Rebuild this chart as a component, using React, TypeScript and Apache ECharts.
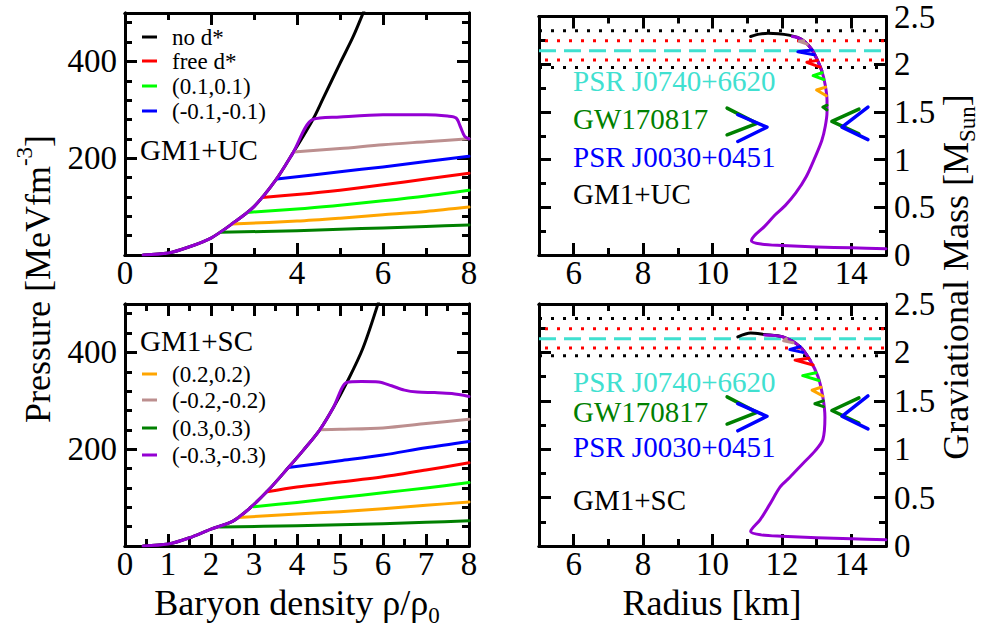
import React, { useEffect, useRef } from "react";
import * as echarts from "echarts";

const FONT = "Liberation Serif";
const COL = {
  black: "#000000",
  red: "#ff0000",
  lime: "#00ff00",
  blue: "#0000ff",
  orange: "#ffa500",
  brown: "#bc8f8f",
  green: "#008000",
  purple: "#9400d3",
  cyan: "#40e0d0",
};

// ---------- tick values ----------
const eosTopXMajor = [0, 2, 4, 6, 8];
const eosTopXMinor = [0, 1, 2, 3, 4, 5, 6, 7, 8];
const eosBotXMajor = [0, 1, 2, 3, 4, 5, 6, 7, 8];
const eosBotXMinor = [0, 0.5, 1, 1.5, 2, 2.5, 3, 3.5, 4, 4.5, 5, 5.5, 6, 6.5, 7, 7.5, 8];
const eosYMajor = [0, 200, 400];
const eosYMinor = [0, 40, 80, 120, 160, 200, 240, 280, 320, 360, 400, 440, 480];
const eosYLabels = [200, 400];
const mrXMajor = [6, 8, 10, 12, 14];
const mrXMinor = [5, 6, 7, 8, 9, 10, 11, 12, 13, 14, 15];
const mrYMajor = [0, 0.5, 1, 1.5, 2, 2.5];
const mrYMinor = [0, 0.25, 0.5, 0.75, 1, 1.25, 1.5, 1.75, 2, 2.25, 2.5];

// ---------- GM1+UC : pressure vs density ----------
const ucBase = [[0.42, 0], [1.0, 4], [1.5, 17], [2.0, 35], [2.5, 65], [3.0, 100], [3.5, 154], [3.9, 210], [4.37, 280]];
const ucNoD = [[4.37, 280], [4.6, 322], [5.0, 396], [5.3, 450], [5.56, 505]];
const ucFree = [[3.19, 119], [4, 125], [5, 134], [6, 145], [7, 157], [8, 169]];
const ucP01 = [[2.84, 88], [4, 95], [5, 103], [6, 112], [7, 122], [8, 134]];
const ucM01 = [[3.53, 157], [5, 172], [6, 182], [7, 193], [8, 204]];
const ucP02 = [[2.49, 64], [4, 70], [5, 76], [6, 83], [7, 90], [8, 99]];
const ucM02 = [[3.92, 213], [5, 220], [6, 228], [7, 234], [8, 240]];
const ucP03 = [[2.21, 47], [4, 50], [5, 53], [6, 56], [7, 59], [8, 62]];
const ucM03 = [[4.37, 280], [5, 285], [6, 290], [7, 290], [7.5, 287], [7.7, 283], [7.8, 265], [7.9, 245], [8, 240]];

// ---------- GM1+SC : pressure vs density ----------
const scBase = [[0.42, 0], [1.0, 4], [1.5, 17], [2.0, 35], [2.5, 51], [2.9, 78], [3.33, 115], [3.8, 162], [4.14, 197], [4.53, 240], [4.84, 285], [5.16, 338]];
const scNoD = [[5.16, 338], [5.53, 408], [5.9, 505]];
const scFree = [[3.3, 112], [4, 122], [5, 132], [6, 143], [7, 157], [8, 172]];
const scP01 = [[2.98, 81], [4, 90], [5, 100], [6, 110], [7, 120], [8, 131]];
const scM01 = [[3.8, 162], [5, 176], [6, 188], [7, 203], [8, 216]];
const scP02 = [[2.63, 59], [4, 66], [5, 71], [6, 77], [7, 84], [8, 91]];
const scM02 = [[4.53, 240], [5, 241], [6, 244], [7, 253], [8, 262]];
const scP03 = [[2.21, 39], [4, 42], [5, 44], [6, 46], [7, 49], [8, 52]];
const scM03 = [[5.16, 338], [5.5, 340], [5.9, 339], [6.2, 331], [6.5, 322], [6.8, 318], [7.2, 317], [7.6, 315], [8, 309]];

// ---------- GM1+UC : mass vs radius ----------
const mrUcMain = [[15, 0.065], [14, 0.075], [13, 0.085], [12, 0.1], [11.4, 0.115], [11.12, 0.15], [11.2, 0.2], [11.5, 0.3], [11.8, 0.42], [12.1, 0.52], [12.4, 0.65], [12.7, 0.82], [12.95, 1.02], [13.15, 1.2], [13.25, 1.35], [13.3, 1.5], [13.3, 1.62], [13.25, 1.78], [13.15, 1.93], [13.0, 2.06], [12.85, 2.16], [12.65, 2.24], [12.45, 2.28], [12.3, 2.29]];
const mrUcNoD = [[13.15, 1.93], [13.0, 2.06], [12.85, 2.16], [12.65, 2.24], [12.45, 2.28], [12.2, 2.305], [11.9, 2.32], [11.6, 2.325], [11.35, 2.315], [11.1, 2.29]];
const mrUcM02 = [[12.73, 2.21], [12.5, 2.24], [12.63, 2.245]];
const mrUcM01 = [[12.93, 2.1], [12.46, 2.13], [12.87, 2.15]];
const mrUcFree = [[13.1, 1.97], [12.72, 2.02], [13.02, 2.04]];
const mrUcP01 = [[13.21, 1.84], [12.9, 1.88], [13.16, 1.91]];
const mrUcP02 = [[13.28, 1.67], [13.0, 1.73], [13.26, 1.76]];
const mrUcP03 = [[13.3, 1.52], [13.18, 1.55], [13.3, 1.57]];

// ---------- GM1+SC : mass vs radius ----------
const mrScMain = [[15, 0.065], [14, 0.075], [13, 0.085], [12, 0.1], [11.4, 0.115], [11.1, 0.15], [11.37, 0.27], [11.65, 0.43], [11.95, 0.61], [12.23, 0.71], [12.6, 0.85], [12.95, 0.98], [13.18, 1.1], [13.24, 1.33], [13.18, 1.54], [13.04, 1.75], [12.81, 1.92], [12.52, 2.06], [12.03, 2.16], [11.5, 2.18]];
const mrScNoD = [[12.81, 1.92], [12.52, 2.06], [12.03, 2.16], [11.5, 2.185], [11.1, 2.2], [10.73, 2.16]];
const mrScM02 = [[12.32, 2.1], [12.05, 2.12], [12.13, 2.14]];
const mrScM01 = [[12.6, 2.0], [12.23, 2.03], [12.52, 2.06]];
const mrScFree = [[12.9, 1.87], [12.38, 1.92], [12.77, 1.94]];
const mrScP01 = [[13.07, 1.71], [12.6, 1.76], [12.98, 1.79]];
const mrScP02 = [[13.18, 1.55], [12.87, 1.61], [13.13, 1.64]];
const mrScP03 = [[13.2, 1.44], [12.95, 1.47], [13.19, 1.5]];

// ---------- observational constraints ----------
const gwLower = [[10.42, 1.54], [11.28, 1.38], [10.42, 1.26]];
const nicerLower = [[10.73, 1.47], [11.57, 1.34], [10.73, 1.19]];
const gwUpper = [[14.22, 1.53], [13.44, 1.4], [14.22, 1.27]];
const nicerUpper = [[14.48, 1.55], [13.73, 1.34], [14.48, 1.21]];
const j0740Central = [2.14];
const j0740Sigma1 = [2.245, 2.045];
const j0740Sigma2 = [2.35, 1.965];

const topLegend = ["no d*", "free d*", "(0.1,0.1)", "(-0.1,-0.1)"];
const topLegendColors = [COL.black, COL.red, COL.lime, COL.blue];
const botLegend = ["(0.2,0.2)", "(-0.2,-0.2)", "(0.3,0.3)", "(-0.3,-0.3)"];
const botLegendColors = [COL.orange, COL.brown, COL.green, COL.purple];

const TICK = 33;

function measure(t: string, size: number): number {
  const c = document.createElement("canvas").getContext("2d");
  if (!c) return t.length * size * 0.45;
  c.font = `${size}px ${FONT}`;
  return c.measureText(t).width;
}

function axisSet(dim: "x" | "y", g: number, min: number, max: number, major: number[], minor: number[], labels: number[] | null, labelSide: string) {
  const sides = dim === "x" ? ["bottom", "top"] : ["left", "right"];
  const out: any[] = [];
  sides.forEach((side) => {
    [true, false].forEach((isMajor) => {
      const showLabel = isMajor && labels !== null && side === labelSide;
      out.push({
        type: "value",
        gridIndex: g,
        min,
        max,
        position: side,
        splitLine: { show: false },
        axisLine: { show: true, onZero: false, lineStyle: { color: "#000", width: 3 } },
        axisTick: {
          show: true,
          inside: true,
          length: isMajor ? 12 : 7,
          lineStyle: { color: "#000", width: 3 },
          customValues: isMajor ? major : minor,
        },
        axisLabel: showLabel
          ? {
              show: true,
              customValues: labels,
              fontFamily: FONT,
              fontSize: TICK,
              color: "#000",
              lineHeight: 26,
              margin: dim === "x" ? 5 : 8,
            }
          : { show: false },
      });
    });
  });
  return out;
}

function buildOption() {
  const grids = [
    { left: 125, top: 13, width: 344, height: 242 },
    { left: 125, top: 304, width: 344, height: 242 },
    { left: 539, top: 13, width: 347, height: 242 },
    { left: 539, top: 304, width: 347, height: 242 },
  ];
  const xAxis = [
    ...axisSet("x", 0, 0, 8, eosTopXMajor, eosTopXMinor, eosTopXMajor, "bottom"),
    ...axisSet("x", 1, 0, 8, eosBotXMajor, eosBotXMinor, eosBotXMajor, "bottom"),
    ...axisSet("x", 2, 5, 15, mrXMajor, mrXMinor, mrXMajor, "bottom"),
    ...axisSet("x", 3, 5, 15, mrXMajor, mrXMinor, mrXMajor, "bottom"),
  ];
  const yAxis = [
    ...axisSet("y", 0, 0, 500, eosYMajor, eosYMinor, eosYLabels, "left"),
    ...axisSet("y", 1, 0, 500, eosYMajor, eosYMinor, eosYLabels, "left"),
    ...axisSet("y", 2, 0, 2.5, mrYMajor, mrYMinor, mrYMajor, "right"),
    ...axisSet("y", 3, 0, 2.5, mrYMajor, mrYMinor, mrYMajor, "right"),
  ];

  const line = (g: number, data: number[][], color: string, width = 3, smooth: number | boolean = 0.3, extra: any = {}) => ({
    type: "line",
    xAxisIndex: g * 4,
    yAxisIndex: g * 4,
    data,
    symbol: "none",
    showSymbol: false,
    smooth,
    silent: true,
    lineStyle: { color, width, cap: "round", join: "round" },
    itemStyle: { color },
    ...extra,
  });

  const series: any[] = [];
  const eos = [
    { g: 0, base: ucBase, noD: ucNoD, free: ucFree, p01: ucP01, m01: ucM01, p02: ucP02, m02: ucM02, p03: ucP03, m03: ucM03 },
    { g: 1, base: scBase, noD: scNoD, free: scFree, p01: scP01, m01: scM01, p02: scP02, m02: scM02, p03: scP03, m03: scM03 },
  ];
  eos.forEach((p) => {
    series.push(line(p.g, [...p.base, ...p.noD.slice(1)], COL.black));
    series.push(line(p.g, p.p03, COL.green));
    series.push(line(p.g, p.p02, COL.orange));
    series.push(line(p.g, p.p01, COL.lime));
    series.push(line(p.g, p.free, COL.red));
    series.push(line(p.g, p.m01, COL.blue));
    series.push(line(p.g, p.m02, COL.brown));
    series.push(line(p.g, [...p.base, ...p.m03.slice(1)], COL.purple));
  });

  const mr = [
    { g: 2, main: mrUcMain, noD: mrUcNoD, m02: mrUcM02, m01: mrUcM01, free: mrUcFree, p01: mrUcP01, p02: mrUcP02, p03: mrUcP03 },
    { g: 3, main: mrScMain, noD: mrScNoD, m02: mrScM02, m01: mrScM01, free: mrScFree, p01: mrScP01, p02: mrScP02, p03: mrScP03 },
  ];
  mr.forEach((p) => {
    j0740Sigma2.forEach((v) => series.push(line(p.g, [[5, v], [15, v]], COL.black, 3, false, { lineStyle: { color: COL.black, width: 3, type: [3, 9] } })));
    j0740Sigma1.forEach((v) => series.push(line(p.g, [[5, v], [15, v]], COL.red, 3, false, { lineStyle: { color: COL.red, width: 3, type: [3, 9], dashOffset: 6 } })));
    j0740Central.forEach((v) => series.push(line(p.g, [[5, v], [15, v]], COL.cyan, 3, false, { lineStyle: { color: COL.cyan, width: 3, type: [17, 8] } })));
    series.push(line(p.g, p.noD, COL.black));
    series.push(line(p.g, p.main, COL.purple));
    series.push(line(p.g, p.m02, COL.brown, 3, false));
    series.push(line(p.g, p.m01, COL.blue, 3, false));
    series.push(line(p.g, p.free, COL.red, 3, false));
    series.push(line(p.g, p.p01, COL.lime, 3, false));
    series.push(line(p.g, p.p02, COL.orange, 3, false));
    series.push(line(p.g, p.p03, COL.green, 3, false));
    series.push(line(p.g, gwLower, COL.green, 3.5, false));
    series.push(line(p.g, nicerLower, COL.blue, 3.5, false));
    series.push(line(p.g, gwUpper, COL.green, 3.5, false));
    series.push(line(p.g, nicerUpper, COL.blue, 3.5, false));
  });

  const graphic: any[] = [];
  const txt = (x: number, y: number, text: string, size: number, fill = "#000", align = "left") => ({
    type: "text",
    x,
    y,
    silent: true,
    style: { text, fontFamily: FONT, fontSize: size, fill, textAlign: align, textVerticalAlign: "middle" },
  });
  const legendRowsTop = [37, 61, 86, 111];
  topLegend.forEach((t, i) => {
    graphic.push({ type: "line", shape: { x1: 142, y1: legendRowsTop[i], x2: 157, y2: legendRowsTop[i] }, style: { stroke: topLegendColors[i], lineWidth: 3 } });
    graphic.push(txt(172, legendRowsTop[i], t, 23));
  });
  graphic.push(txt(140, 150, "GM1+UC", 29));
  graphic.push(txt(140, 341, "GM1+SC", 29));
  const legendRowsBot = [374, 400, 428, 455];
  botLegend.forEach((t, i) => {
    graphic.push({ type: "line", shape: { x1: 142, y1: legendRowsBot[i], x2: 157, y2: legendRowsBot[i] }, style: { stroke: botLegendColors[i], lineWidth: 3 } });
    graphic.push(txt(172, legendRowsBot[i], t, 23));
  });
  const annTop = [81, 119, 157, 194];
  const annBot = [382, 412, 447, 500];
  const annText = ["PSR J0740+6620", "GW170817", "PSR J0030+0451"];
  const annCol = [COL.cyan, COL.green, COL.blue];
  annText.forEach((t, i) => {
    graphic.push(txt(573, annTop[i], t, 29, annCol[i]));
    graphic.push(txt(573, annBot[i], t, 29, annCol[i]));
  });
  graphic.push(txt(573, annTop[3], "GM1+UC", 29));
  graphic.push(txt(573, annBot[3], "GM1+SC", 29));

  const TS = 36;
  const SS = 23;
  {
    const a = "Pressure [MeVfm", b = "-3", c = "]";
    const wa = measure(a, TS), wb = measure(b, SS), wc = measure(c, TS);
    const W = wa + wb + wc;
    graphic.push({
      type: "group", x: 38, y: 279, rotation: Math.PI / 2, silent: true,
      children: [txt(-W / 2, 0, a, TS), txt(-W / 2 + wa, -14, b, SS), txt(-W / 2 + wa + wb, 0, c, TS)],
    });
  }
  {
    const a = "Graviational Mass [M", b = "Sun", c = "]";
    const wa = measure(a, TS), wb = measure(b, SS), wc = measure(c, TS);
    const W = wa + wb + wc;
    graphic.push({
      type: "group", x: 956, y: 277, rotation: Math.PI / 2, silent: true,
      children: [txt(-W / 2, 0, a, TS), txt(-W / 2 + wa, 11, b, SS), txt(-W / 2 + wa + wb, 0, c, TS)],
    });
  }
  {
    const a = "Baryon density \u03c1/\u03c1", b = "0";
    const wa = measure(a, TS), wb = measure(b, SS);
    const W = wa + wb;
    graphic.push({
      type: "group", x: 297, y: 603, silent: true,
      children: [txt(-W / 2, 0, a, TS), txt(-W / 2 + wa, 12, b, SS)],
    });
  }
  graphic.push(txt(712, 603, "Radius [km]", TS, "#000", "center"));

  return {
    animation: false,
    backgroundColor: "#ffffff",
    textStyle: { fontFamily: FONT },
    grid: grids,
    xAxis,
    yAxis,
    series,
    graphic,
  };
}

export default function App() {
  const ref = useRef<HTMLDivElement>(null);
  useEffect(() => {
    document.body.style.margin = "0";
    const chart = echarts.init(ref.current!, null, { renderer: "svg" });
    chart.setOption(buildOption() as any);
    return () => chart.dispose();
  }, []);
  return <div ref={ref} style={{ width: 983, height: 634 }} />;
}
